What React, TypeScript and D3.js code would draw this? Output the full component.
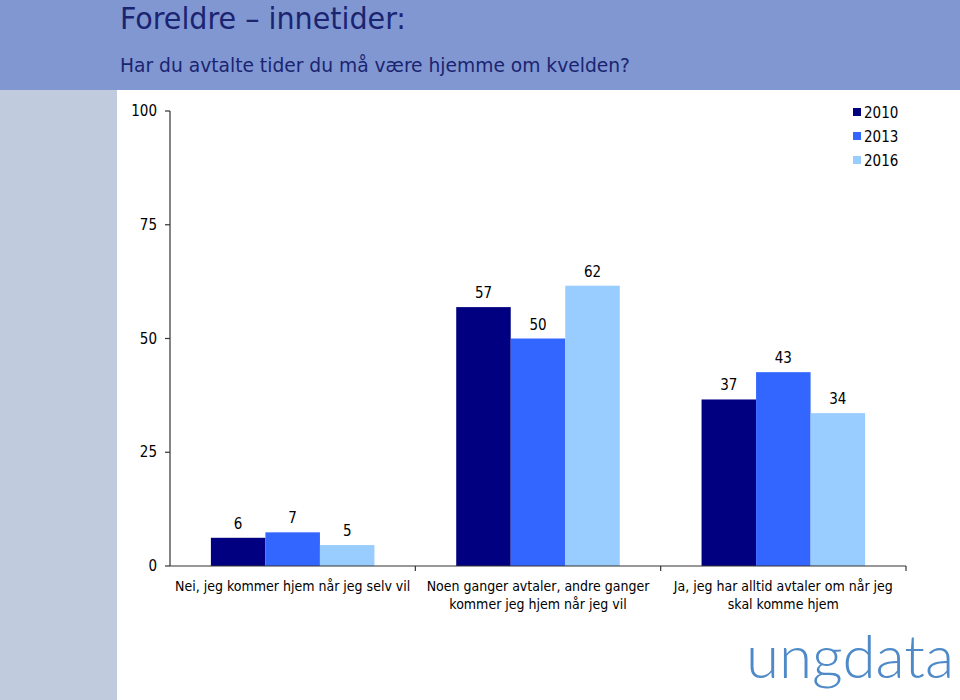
import React from "react";
import * as d3 from "d3";

const categories: string[][] = [
  ["Nei, jeg kommer hjem når jeg selv vil"],
  ["Noen ganger avtaler, andre ganger", "kommer jeg hjem når jeg vil"],
  ["Ja, jeg har alltid avtaler om når jeg", "skal komme hjem"],
];
const seriesNames = ["2010", "2013", "2016"];
const values2010 = [6.2, 56.9, 36.6];
const values2013 = [7.4, 50.0, 42.6];
const values2016 = [4.6, 61.6, 33.6];
const yTicks = [0, 25, 50, 75, 100];
const colors = ["#000080", "#3366FF", "#99CCFF"];

const W = 960;
const H = 700;
const plot = { left: 170, right: 906, top: 111, bottom: 566 };
const font = "'DejaVu Sans Condensed', 'DejaVu Sans', sans-serif";

export default function App() {
  const series = [values2010, values2013, values2016];
  const y = d3.scaleLinear().domain([0, 100]).range([plot.bottom, plot.top]);
  const x0 = d3
    .scaleBand<number>()
    .domain(categories.map((_, i) => i))
    .range([plot.left, plot.right])
    .paddingInner(0)
    .paddingOuter(0);
  const bw = x0.bandwidth();
  const x1 = d3
    .scaleBand<number>()
    .domain(seriesNames.map((_, i) => i))
    .range([bw / 6, (bw * 5) / 6])
    .padding(0);

  return (
    <div style={{ position: "absolute", left: 0, top: 0 }}>
      <svg width={W} height={H} style={{ display: "block" }}>
        <rect x={0} y={0} width={W} height={H} fill="#ffffff" />
        <rect x={0} y={0} width={W} height={90} fill="#8197D2" />
        <rect x={0} y={90} width={117} height={H - 90} fill="#C0CBDE" />
        <text x={120} y={29} fontFamily={font} fontSize={31} fill="#1B2470" textLength={286} lengthAdjust="spacingAndGlyphs">
          Foreldre – innetider:
        </text>
        <text x={120} y={72} fontFamily={font} fontSize={20} fill="#1B2470" textLength={510} lengthAdjust="spacingAndGlyphs">
          Har du avtalte tider du må være hjemme om kvelden?
        </text>

        {/* bars */}
        {categories.map((_, ci) =>
          series.map((vals, si) => {
            const bx = (x0(ci) as number) + (x1(si) as number);
            const v = vals[ci];
            return (
              <g key={`${ci}-${si}`}>
                <rect x={bx} y={y(v)} width={x1.bandwidth()} height={y(0) - y(v)} fill={colors[si]} />
                <text
                  x={bx + x1.bandwidth() / 2}
                  y={y(v) - 9}
                  textAnchor="middle"
                  fontFamily={font}
                  fontSize={15}
                  fill="#000"
                >
                  {Math.round(v)}
                </text>
              </g>
            );
          })
        )}

        {/* y axis */}
        <line x1={plot.left} x2={plot.left} y1={plot.top} y2={plot.bottom} stroke="#333" strokeWidth={1.2} />
        {yTicks.map((t) => (
          <g key={t}>
            <line x1={plot.left - 5} x2={plot.left} y1={y(t)} y2={y(t)} stroke="#333" strokeWidth={1.2} />
            <text x={plot.left - 13} y={y(t) + 5} textAnchor="end" fontFamily={font} fontSize={15} fill="#000">
              {t}
            </text>
          </g>
        ))}

        {/* x axis */}
        <line x1={plot.left} x2={plot.right} y1={plot.bottom} y2={plot.bottom} stroke="#333" strokeWidth={1.2} />
        {categories.map((_, ci) => (
          <line
            key={ci}
            x1={(x0(ci) as number) + bw}
            x2={(x0(ci) as number) + bw}
            y1={plot.bottom}
            y2={plot.bottom + 5}
            stroke="#333"
            strokeWidth={1.2}
          />
        ))}
        {categories.map((lines, ci) => (
          <text key={ci} textAnchor="middle" fontFamily={font} fontSize={14} fill="#000">
            {lines.map((l, li) => (
              <tspan key={li} x={(x0(ci) as number) + bw / 2} y={591 + li * 18}>
                {l}
              </tspan>
            ))}
          </text>
        ))}

        {/* legend */}
        {seriesNames.map((s, i) => (
          <g key={s}>
            <rect x={853} y={108 + i * 24} width={8} height={8} fill={colors[i]} />
            <text x={864} y={118 + i * 24} fontFamily={font} fontSize={15} fill="#000">
              {s}
            </text>
          </g>
        ))}

        {/* logo */}
        <text
          x={746}
          y={678}
          fontFamily="Lato, 'Open Sans', sans-serif"
          fontWeight={300}
          fontSize={60}
          fill="#4E8AC8"
          textLength={208}
          lengthAdjust="spacingAndGlyphs"
        >
          ungdata
        </text>
      </svg>
    </div>
  );
}
